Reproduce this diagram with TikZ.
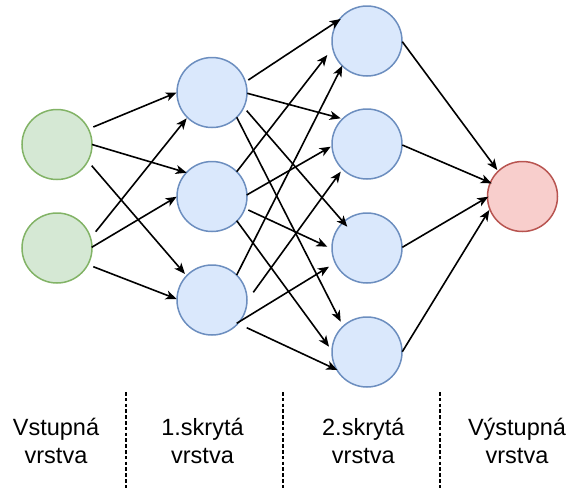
\documentclass[tikz,border=0pt]{standalone}
\usepackage{fontspec}
\setmainfont{Liberation Sans}
\usetikzlibrary{arrows.meta,calc}
\definecolor{gfill}{HTML}{D5E8D4}
\definecolor{gline}{HTML}{82B366}
\definecolor{bfill}{HTML}{DAE8FC}
\definecolor{bline}{HTML}{6C8EBF}
\definecolor{rfill}{HTML}{F8CECC}
\definecolor{rline}{HTML}{B85450}
\tikzset{
  neuron/.style={circle,minimum size=70pt,inner sep=0pt,line width=1.5pt},
  inp/.style={neuron,draw=gline,fill=gfill},
  hid/.style={neuron,draw=bline,fill=bfill},
  outn/.style={neuron,draw=rline,fill=rfill},
  arr/.style={line width=1.6pt,-{Stealth[length=11pt,width=9pt,inset=3pt]}},
  sepline/.style={line width=1.5pt,dash pattern=on 3.5pt off 2.3pt},
  lbl/.style={align=center,inner sep=0pt,font=\fontsize{23.5}{28.4}\selectfont}
}
\begin{document}
\begin{tikzpicture}[x=1pt,y=-1pt]
\useasboundingbox (0,0) rectangle (568,488);
% nodes
\node[inp] (I1) at (57,144.5) {};
\node[inp] (I2) at (57,248) {};
\node[hid] (H11) at (212,92.5) {};
\node[hid] (H12) at (212,196.5) {};
\node[hid] (H13) at (212,300) {};
\node[hid] (H21) at (367,41) {};
\node[hid] (H22) at (367,144) {};
\node[hid] (H23) at (367,248) {};
\node[hid] (H24) at (367,352) {};
\node[outn] (O) at (522.5,196.5) {};
% input -> hidden 1
\draw[arr] ($(I1)+(36.3,-17.5)$) -- ($(H11)+(-35.3,0)$);
\draw[arr] ($(I1)+(35,0)$) -- ($(H12)+(-25.3,-23.8)$);
\draw[arr] ($(I1)+(34.7,21.2)$) -- ($(H13)+(-27,-26)$);
\draw[arr] ($(I2)+(38.7,-16.3)$) -- ($(H11)+(-25.3,25.8)$);
\draw[arr] ($(I2)+(34.7,-0.7)$) -- ($(H12)+(-35.3,0.2)$);
\draw[arr] ($(I2)+(36.3,18.7)$) -- ($(H13)+(-35.3,-1)$);
% hidden 1 -> hidden 2
\draw[arr] ($(H11)+(36.3,-12.5)$) -- ($(H21)+(-26.3,-22)$);
\draw[arr] ($(H11)+(35.3,0.8)$) -- ($(H22)+(-26.3,-25.7)$);
\draw[arr] ($(H11)+(34.7,18.2)$) -- ($(H23)+(-19.7,-21.3)$);
\draw[arr] ($(H11)+(24.7,24.8)$) -- ($(H24)+(-26.3,-30.3)$);
\draw[arr] ($(H12)+(24.7,-24.8)$) -- ($(H21)+(-39.7,14)$);
\draw[arr] ($(H12)+(34.7,-1.5)$) -- ($(H22)+(-36.3,2.7)$);
\draw[arr] ($(H12)+(36.3,13.5)$) -- ($(H23)+(-39.7,-1.3)$);
\draw[arr] ($(H12)+(24.7,24.2)$) -- ($(H24)+(-38,-5.3)$);
\draw[arr] ($(H13)+(24.7,-25)$) -- ($(H21)+(-24.7,24.7)$);
\draw[arr] ($(H13)+(41.3,-7.7)$) -- ($(H22)+(-26.3,27.7)$);
\draw[arr] ($(H13)+(24.7,23.3)$) -- ($(H23)+(-38,18.7)$);
\draw[arr] ($(H13)+(34.7,27.7)$) -- ($(H24)+(-29.7,18)$);
% hidden 2 -> output
\draw[arr] ($(H21)+(35.3,0.7)$) -- ($(O)+(-25.2,-26.5)$);
\draw[arr] ($(H22)+(35.3,1)$) -- ($(O)+(-30.8,-13.2)$);
\draw[arr] ($(H23)+(35.3,-0.7)$) -- ($(O)+(-34.2,0.2)$);
\draw[arr] ($(H24)+(35.3,-0.3)$) -- ($(O)+(-33.2,13.5)$);
% separators
\coordinate (S1t) at (126,392); \coordinate (S1b) at (126,488);
\coordinate (S2t) at (283,392); \coordinate (S2b) at (283,488);
\coordinate (S3t) at (440,392); \coordinate (S3b) at (440,488);
\draw[sepline] (S1t) -- (S1b);
\draw[sepline] (S2t) -- (S2b);
\draw[sepline] (S3t) -- (S3b);
% labels
\node[lbl] (L1) at (56,441) {Vstupná\\vrstva};
\node[lbl] (L2) at (202.5,441) {1.skrytá\\vrstva};
\node[lbl] (L3) at (363.3,441) {2.skrytá\\vrstva};
\node[lbl] (L4) at (517,441) {Výstupná\\vrstva};
\end{tikzpicture}
\end{document}
